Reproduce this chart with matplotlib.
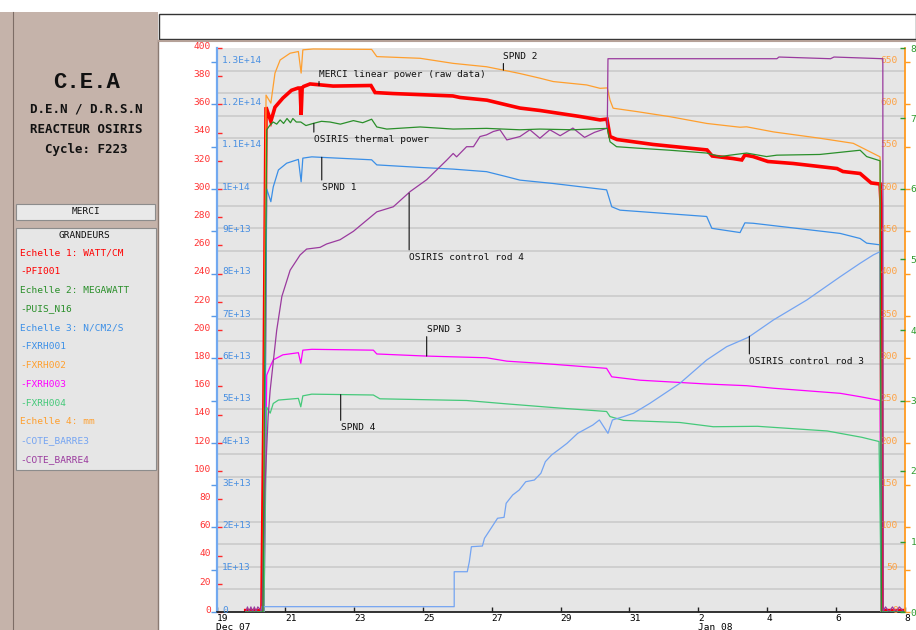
import numpy as np
import matplotlib
matplotlib.use('Agg')
import matplotlib.pyplot as plt
import matplotlib.transforms as mtransforms
from matplotlib.patches import Rectangle
from matplotlib.lines import Line2D
from matplotlib.ticker import FixedLocator, MultipleLocator

W, H = 916, 630
MONO = 'DejaVu Sans Mono'

# time axis : days since 19 Dec 2007 00:00
x_ticks = list(range(0, 21, 2))
x_labels = ['19\nDec 07', '21', '23', '25', '27', '29', '31', '2\nJan 08', '4', '6', '8']

# Echelle 1 (WATT/CM) - PFI001, MERCI linear power
pfi_t = [0.85, 1.32, 1.38, 1.44, 1.58, 1.70, 1.93, 2.18, 2.37, 2.43, 2.46, 2.49, 2.53, 2.72, 3.39,
         4.49, 4.61, 5.13, 6.87, 7.08, 7.86, 8.44, 8.82, 9.40, 9.78, 10.57, 11.15, 11.35, 11.44,
         11.64, 12.69, 14.26, 14.41, 15.01, 15.27, 15.36, 15.60, 16.03, 16.76, 18.04, 18.21,
         18.71, 19.03, 19.29, 19.32, 19.35, 19.99]
pfi_v = [1, 1, 150, 358, 348, 358, 364.5, 370, 371.6, 371.6, 352.5, 371.6, 372.7, 374.5, 373,
         373.4, 368.4, 367.7, 366, 364.9, 363, 359.6, 357.4, 355.7, 354.3, 351.4, 349, 349.6, 337.2,
         335.1, 331.6, 327.7, 323.4, 321.6, 320.6, 324.1, 323, 319.5, 318.1, 314.5, 312.4,
         311, 304.3, 303.5, 288.7, 1, 1]

# Echelle 2 (MEGAWATT) - PUIS_N16, OSIRIS thermal power
puis_t = [0.85, 1.35, 1.41, 1.46, 1.56, 1.65, 1.75, 1.85, 1.95, 2.05, 2.15, 2.22, 2.32, 2.45, 2.60,
          2.81, 3.05, 3.30, 3.60, 3.98, 4.25, 4.51, 4.66, 4.95, 5.92, 6.88, 7.85, 8.82, 9.40, 10.36,
          11.36, 11.44, 11.63, 12.22, 13.18, 14.25, 14.64, 14.93, 15.41, 15.99, 16.29, 17.54,
          18.71, 18.90, 19.29, 19.33, 19.99]
puis_v = [0, 0, 40, 68.4, 69.1, 69.5, 69.2, 69.8, 69.3, 70.0, 69.4, 70.0, 69.5, 69.5, 69.0,
          69.3, 69.6, 69.5, 69.2, 69.7, 69.4, 69.9, 68.8, 68.5, 68.8, 68.5, 68.6, 68.4, 68.5, 68.4,
          68.6, 66.7, 66.0, 65.8, 65.5, 65.1, 64.6, 64.8, 65.1, 64.6, 64.8, 64.9,
          65.5, 64.6, 64.0, 0, 0]

# Echelle 3 (N/CM2/S, x1E13) - SPND
fx1_t = [0.85, 1.38, 1.46, 1.58, 1.65, 1.80, 2.04, 2.38, 2.46, 2.51, 2.77, 3.01, 4.51, 4.66, 5.92,
         6.88, 7.85, 8.44, 8.82, 9.79, 11.34, 11.49, 11.73, 14.25, 14.40, 15.22, 15.36, 15.60,
         18.13, 18.71, 18.90, 19.29, 19.33, 19.99]
fx1_v = [0, 0, 10.0, 9.70, 10.05, 10.45, 10.61, 10.70, 10.17, 10.73, 10.76, 10.75, 10.69, 10.57, 10.51,
         10.47, 10.41, 10.29, 10.21, 10.13, 9.98, 9.58, 9.50, 9.35, 9.07, 8.97, 9.20, 9.19,
         8.95, 8.83, 8.72, 8.68, 0, 0]

fx2_t = [0.85, 1.35, 1.44, 1.58, 1.70, 1.85, 2.14, 2.38, 2.46, 2.51, 2.81, 4.51, 4.66, 5.92, 6.88,
         7.85, 8.34, 8.82, 9.40, 9.79, 10.76, 11.15, 11.36, 11.44, 11.53, 12.22, 13.18, 14.25,
         15.22, 15.41, 16.19, 17.54, 18.51, 18.90, 19.29, 19.32, 19.99]
fx2_v = [0, 0, 12.22, 12.03, 12.74, 13.05, 13.21, 13.25, 12.74, 13.29, 13.31, 13.30, 13.13, 13.09, 12.97,
         12.89, 12.81, 12.73, 12.62, 12.54, 12.46, 12.38, 12.39, 12.10, 11.91, 11.83, 11.71, 11.55,
         11.46, 11.47, 11.35, 11.20, 11.08, 10.92, 10.76, 0, 0]

fx3_t = [0.85, 1.38, 1.46, 1.56, 1.65, 1.93, 2.38, 2.45, 2.51, 2.77, 4.56, 4.66, 6.11, 7.85, 8.44,
         9.40, 11.34, 11.49, 12.31, 14.25, 15.41, 16.19, 18.13, 18.71, 19.29, 19.33, 19.99]
fx3_v = [0, 0, 5.60, 5.80, 5.96, 6.08, 6.13, 5.88, 6.19, 6.21, 6.19, 6.10, 6.05, 6.01, 5.93,
         5.88, 5.76, 5.56, 5.48, 5.39, 5.35, 5.29, 5.17, 5.09, 5.00, 0, 0]

fx4_t = [0.85, 1.38, 1.46, 1.56, 1.65, 1.80, 2.38, 2.45, 2.51, 2.77, 4.56, 4.75, 7.27, 8.44, 9.99,
         11.34, 11.44, 11.83, 13.47, 14.44, 15.73, 17.75, 18.76, 19.26, 19.33, 19.99]
fx4_v = [0, 0, 4.84, 4.70, 4.93, 5.01, 5.05, 4.85, 5.11, 5.15, 5.13, 5.04, 5.00, 4.92, 4.82,
         4.74, 4.62, 4.53, 4.48, 4.38, 4.39, 4.28, 4.13, 4.03, 0, 0]

# Echelle 4 (mm) - control rods
rod3_t = [1.30, 1.32, 6.91, 6.91, 7.29, 7.35, 7.41, 7.73, 7.79, 7.98, 8.17, 8.36, 8.42, 8.61, 8.80,
          8.99, 9.24, 9.43, 9.56, 9.74, 10.00, 10.19, 10.50, 10.94, 11.13, 11.38, 11.51, 11.83,
          12.12, 12.60, 13.47, 14.25, 14.83, 15.46, 16.19, 17.16, 18.13, 18.71, 19.09, 19.29,
          19.33, 19.99]
rod3_v = [0, 6.3, 6.3, 47.6, 47.6, 59.5, 77.2, 78.0, 87.1, 98.9, 110.8, 111.9, 128.5, 138.3, 144.2,
          154.0, 156.0, 164.0, 177.7, 185.6, 193.5, 199.4, 211.2, 221.0, 227.0, 211.2, 227.0, 230.9,
          234.9, 246.7, 270.3, 297.9, 313.6, 324.7, 345.2, 368.8, 396.3, 412.2, 422.0, 425.9,
          0, 0]

rod4_t = [0.85, 0.90, 0.95, 1.00, 1.05, 1.10, 1.15, 1.20, 1.32, 1.41, 1.50, 1.56, 1.75, 1.90, 2.14,
          2.43, 2.62, 3.01, 3.20, 3.59, 3.98, 4.66, 5.14, 5.63, 6.11, 6.69, 6.88, 6.98, 7.27, 7.47,
          7.66, 7.85, 8.05, 8.24, 8.44, 8.82, 9.11, 9.40, 9.69, 9.99, 10.36, 10.70, 10.99, 11.36,
          11.38, 16.29, 16.35, 17.85, 17.95, 19.37, 19.38, 19.45, 19.55, 19.65, 19.75, 19.85, 19.99]
rod4_v = [0, 6, 0, 6, 0, 6, 0, 6, 1, 150, 230, 262, 333, 373, 404,
          422, 429, 431, 435, 440, 450, 473, 479, 497, 511, 534, 542, 538, 550, 550,
          562, 564, 568, 570, 558, 562, 570, 560, 570, 563, 572, 561, 567, 572,
          654, 654, 656, 654, 656, 654, 1, 6, 0, 6, 0, 6, 0]

C_RED = '#ff0000'
C_GREEN = '#2a8f2a'
C_BLUE = '#3b8fe6'
C_ORANGE = '#ff9f2e'
C_MAGENTA = '#ff00ff'
C_LGREEN = '#45c97a'
C_LBLUE = '#74a4f2'
C_PURPLE = '#9a3a9e'

fig = plt.figure(figsize=(W / 100, H / 100), dpi=100, facecolor='white')

def fx(px):
    return px / W

def fy(py):
    return 1 - py / H

# left panel
fig.add_artist(Rectangle((0, 0), fx(158), fy(12), transform=fig.transFigure, facecolor='#c5b3aa',
                         edgecolor='none', zorder=0))
fig.add_artist(Line2D([fx(12.5), fx(12.5)], [0, fy(12)], transform=fig.transFigure, color='#7d6d66', lw=0.8))
fig.add_artist(Line2D([fx(158), fx(158)], [0, fy(40)], transform=fig.transFigure, color='#8a7a72', lw=1.0))
# title bar
fig.add_artist(Rectangle((fx(159), fy(39)), fx(W - 159), 25 / H, transform=fig.transFigure,
                         facecolor='white', edgecolor='#333333', lw=1.0))
fig.add_artist(Line2D([fx(159), 1], [fy(41), fy(41)], transform=fig.transFigure, color='#b5a198', lw=1.5))

fig.text(fx(87), fy(83), 'C.E.A', ha='center', va='center', fontsize=16, weight='bold',
         family='Liberation Mono', color='#111111')
for txt, yy in [('D.E.N / D.R.S.N', 109), ('REACTEUR OSIRIS', 129.5), ('Cycle: F223', 149.5)]:
    fig.text(fx(86), fy(yy), txt, ha='center', va='center', fontsize=9, weight='bold', family=MONO,
             color='#111111')

fig.add_artist(Rectangle((fx(16), fy(220)), fx(139), 16 / H, transform=fig.transFigure,
                         facecolor='#e9e9e9', edgecolor='#8c8c8c', lw=0.8))
fig.text(fx(86), fy(212), 'MERCI', ha='center', va='center', fontsize=6.8, family=MONO, color='#111111')
fig.add_artist(Rectangle((fx(16), fy(470)), fx(140), 242 / H, transform=fig.transFigure,
                         facecolor='#e6e6e6', edgecolor='#8c8c8c', lw=0.8))
fig.text(fx(84), fy(235.7), 'GRANDEURS', ha='center', va='center', fontsize=6.8, family=MONO,
         color='#111111')
legend_rows = [('Echelle 1: WATT/CM', C_RED), ('-PFI001', C_RED),
               ('Echelle 2: MEGAWATT', C_GREEN), ('-PUIS_N16', C_GREEN),
               ('Echelle 3: N/CM2/S', C_BLUE), ('-FXRH001', C_BLUE), ('-FXRH002', C_ORANGE),
               ('-FXRH003', C_MAGENTA), ('-FXRH004', C_LGREEN),
               ('Echelle 4: mm', C_ORANGE), ('-COTE_BARRE3', C_LBLUE), ('-COTE_BARRE4', C_PURPLE)]
for i, (txt, col) in enumerate(legend_rows):
    fig.text(fx(20.5), fy(252.7 + i * 18.8), txt, ha='left', va='center', fontsize=6.8, family=MONO,
             color=col)

# main axes (Echelle 1 on the left)
ax = fig.add_axes([fx(216.5), fy(612), fx(688), 564 / H])
axb = ax.twinx()
axo = ax.twinx()
axg = ax.twinx()

ax.set_facecolor('#e6e6e6')
ax.set_xlim(0, 20)
ax.set_ylim(0, 400)
axb.set_ylim(0, 400 * 1e14 / 300)
axo.set_ylim(0, 400 * 5 / 3)
axg.set_ylim(0, 80)

ax.yaxis.set_minor_locator(MultipleLocator(16))
ax.grid(which='minor', axis='y', color='#c9c9c9', lw=1.1)
ax.set_axisbelow(True)
ax.tick_params(axis='y', which='minor', length=0)

for a in (ax, axb, axo, axg):
    for s in a.spines.values():
        s.set_visible(False)
ax.spines['bottom'].set_visible(True)
ax.spines['bottom'].set_color('#222222')
ax.spines['bottom'].set_linewidth(1.3)
ax.spines['left'].set_visible(True)
ax.spines['left'].set_color('#72a9f0')
ax.spines['left'].set_linewidth(1.6)
axo.spines['right'].set_visible(True)
axo.spines['right'].set_color('#ff9a20')
axo.spines['right'].set_linewidth(1.3)

# x axis
ax.xaxis.set_major_locator(FixedLocator(x_ticks))
ax.set_xticklabels(x_labels, family=MONO, fontsize=6.8, ha='left', linespacing=0.95)
ax.tick_params(axis='x', direction='in', length=3.6, width=1, color='#222222', pad=1.5)

# red scale
ax.yaxis.tick_left()
ax.set_yticks(range(0, 401, 20))
ax.set_yticklabels([str(v) for v in range(0, 401, 20)], family=MONO, fontsize=6.8)
ax.tick_params(axis='y', which='major', direction='in', length=3.6, width=1, color='#ff2a2a',
               labelcolor='#ff3333', pad=4)

# blue scale, labels inside
blue_ticks = [i * 1e13 for i in range(14)]
blue_labels = ['0'] + ['%dE+13' % i for i in range(1, 10)] + ['1E+14', '1.1E+14', '1.2E+14', '1.3E+14']
axb.yaxis.tick_left()
axb.set_yticks(blue_ticks)
axb.set_yticklabels(blue_labels, family=MONO, fontsize=6.8, ha='left')
axb.tick_params(axis='y', direction='out', length=3.6, width=1, color='#5a9be8',
                labelcolor='#4a90e2', pad=-7.6)

# orange scale, labels inside
axo.yaxis.tick_right()
axo.set_yticks(range(0, 651, 50))
axo.set_yticklabels([str(v) for v in range(0, 651, 50)], family=MONO, fontsize=6.8, ha='right')
axo.tick_params(axis='y', direction='out', length=3.6, width=1, color='#ff9a20',
                labelcolor='#ffa040', pad=-8.4)

# green scale, labels outside
axg.yaxis.tick_right()
axg.set_yticks(range(0, 81, 10))
axg.set_yticklabels([str(v) for v in range(0, 81, 10)], family=MONO, fontsize=6.8)
axg.tick_params(axis='y', direction='in', length=3.6, width=1, color='#2e9a2e',
                labelcolor='#2e9a2e', pad=4.5)

# series
ax.plot(pfi_t, pfi_v, color=C_RED, lw=2.6, solid_joinstyle='miter')
axg.plot(puis_t, puis_v, color=C_GREEN, lw=0.9)
axb.plot(fx1_t, np.array(fx1_v) * 1e13, color=C_BLUE, lw=0.9)
axb.plot(fx2_t, np.array(fx2_v) * 1e13, color=C_ORANGE, lw=0.9)
axb.plot(fx3_t, np.array(fx3_v) * 1e13, color=C_MAGENTA, lw=0.9)
axb.plot(fx4_t, np.array(fx4_v) * 1e13, color=C_LGREEN, lw=0.9)
axo.plot(rod3_t, rod3_v, color=C_LBLUE, lw=0.9)
axo.plot(rod4_t, rod4_v, color=C_PURPLE, lw=0.9)

# annotations: (axis, text, day, value, vertical text offset in points)
notes = [(axb, 'SPND 2', 8.34, 12.81e13, 10),
         (ax, 'MERCI linear power (raw data)', 2.98, 373.3, 8.2),
         (axg, 'OSIRIS thermal power', 2.83, 69.3, -11.5),
         (axb, 'SPND 1', 3.06, 10.75e13, -21.6),
         (axo, 'OSIRIS control rod 4', 5.60, 495, -46),
         (axb, 'SPND 3', 6.11, 6.05e13, 19.2),
         (axb, 'SPND 4', 3.61, 5.14e13, -23.8),
         (axo, 'OSIRIS control rod 3', 15.49, 326, -18)]
for a, txt, d, v, off in notes:
    a.annotate(txt, xy=(d, v), xytext=(0, off), textcoords='offset points', ha='left', va='center',
               fontsize=6.8, family=MONO, color='#111111',
               arrowprops=dict(arrowstyle='-', color='#111111', lw=0.8, shrinkA=0, shrinkB=0,
                               relpos=(0, 0) if off > 0 else (0, 1)))

# scale labels sit a little above their ticks, as on the original screen
fig.canvas.draw()
lift = mtransforms.ScaledTranslation(0, 2 / 72, fig.dpi_scale_trans)
for a in (ax, axb, axo):
    for lab in a.get_yticklabels():
        lab.set_transform(lab.get_transform() + lift)

fig.savefig('out.png', dpi=100, facecolor='white')
